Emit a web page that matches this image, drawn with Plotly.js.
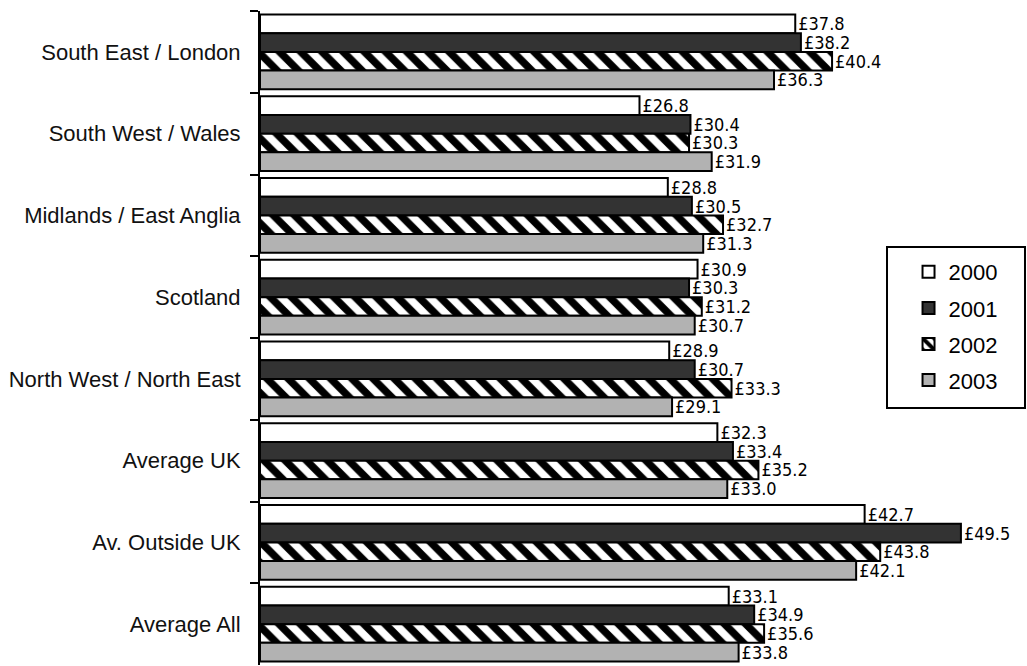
<!DOCTYPE html>
<html>
<head>
<meta charset="utf-8">
<script src="https://cdn.plot.ly/plotly-3.0.1.min.js"></script>
<style>
html,body{margin:0;padding:0;background:#fff;}
#chart{width:1027px;height:666px;}
</style>
</head>
<body>
<div id="chart"></div>
<script>
const regions = ["South East / London","South West / Wales","Midlands / East Anglia","Scotland","North West / North East","Average UK","Av. Outside UK","Average All"];
const years = ["2000","2001","2002","2003"];
const v2000 = [37.8,26.8,28.8,30.9,28.9,32.3,42.7,33.1];
const v2001 = [38.2,30.4,30.5,30.3,30.7,33.4,49.5,34.9];
const v2002 = [40.4,30.3,32.7,31.2,33.3,35.2,43.8,35.6];
const v2003 = [36.3,31.9,31.3,30.7,29.1,33.0,42.1,33.8];
const seriesValues = [v2000, v2001, v2002, v2003];

const fills = ["#ffffff","#333333","#ffffff","#b2b2b2"];
const labelFont = {family:"DejaVu Sans Condensed, Liberation Sans Narrow, sans-serif", size:18, color:"#000"};

const traces = years.map((yr,i)=>{
  const marker = {color: fills[i], line:{color:"#000", width:2}};
  if (i===2) {
    marker.pattern = {shape:"\\", fgcolor:"#000000", bgcolor:"#ffffff", fgopacity:1, size:15, solidity:0.5, fillmode:"replace"};
  }
  return {
    type:"bar", orientation:"h", name:yr,
    x: seriesValues[i], y: regions,
    marker: marker,
    texttemplate:"£%{x:.1f}", textposition:"outside",
    textfont: labelFont, constraintext:"none", cliponaxis:false,
    legendgroup: yr,
    hoverinfo:"skip"
  };
});

const layout = {
  width:1027, height:666,
  margin:{l:260, r:59, t:11, b:1},
  paper_bgcolor:"#fff", plot_bgcolor:"rgba(0,0,0,0)",
  barmode:"group", bargap:0.085, bargroupgap:0,
  showlegend:true,
  legend:{
    x:0.916, xanchor:"left", y:0.633, yanchor:"top",
    bgcolor:"rgba(0,0,0,0)", borderwidth:0,
    font:{family:"Liberation Sans, Arial, sans-serif", size:22, color:"#000"},
    traceorder:"grouped", tracegroupgap:4.5
  },
  shapes:[{
    type:"rect", xref:"paper", yref:"paper",
    x0:0.8856, x1:1.0805, y0:0.3930, y1:0.6391,
    line:{color:"#000", width:2}, fillcolor:"rgba(0,0,0,0)", layer:"below"
  }],
  xaxis:{range:[0,50], visible:false, fixedrange:true},
  yaxis:{
    type:"category", autorange:"reversed",
    showline:true, linecolor:"#000", linewidth:2,
    ticks:"outside", tickson:"boundaries", ticklen:8, tickwidth:2, tickcolor:"#000",
    showgrid:false, zeroline:false,
    ticklabelstandoff:13,
    tickfont:{family:"Liberation Sans, Arial, sans-serif", size:22, color:"#111"}
  },
  font:{family:"Liberation Sans, Arial, sans-serif"}
};

Plotly.newPlot("chart", traces, layout, {displayModeBar:false, staticPlot:true});
</script>
</body>
</html>
